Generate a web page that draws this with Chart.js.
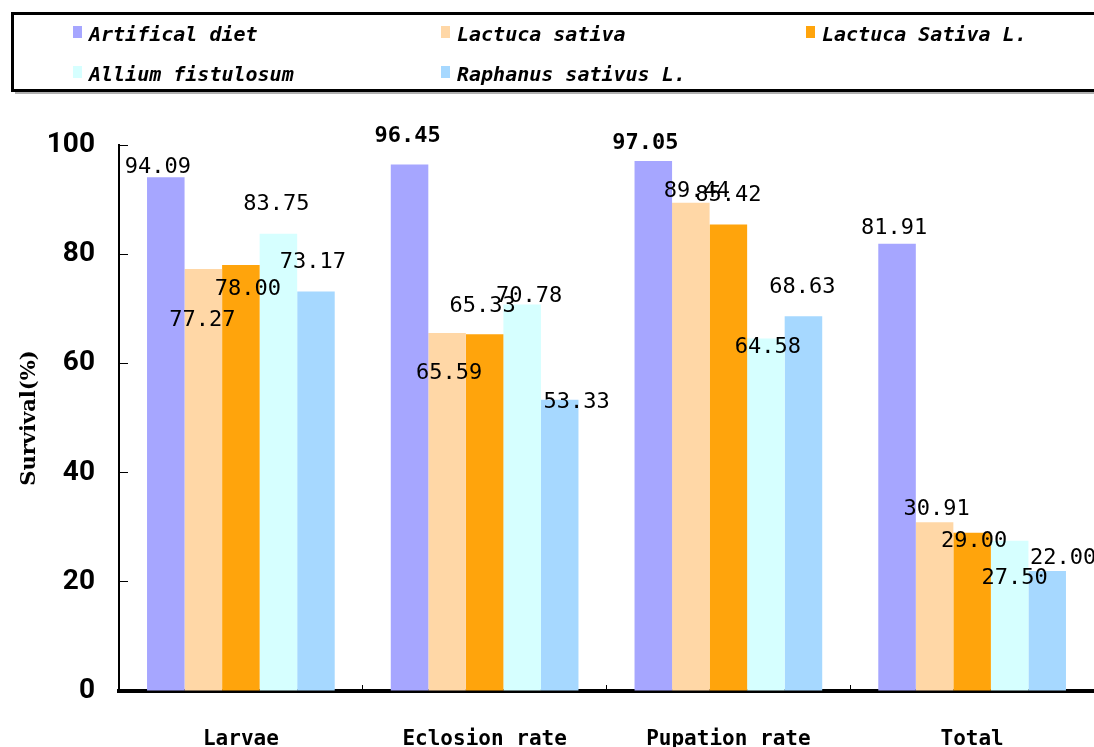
<!DOCTYPE html>
<html>
<head>
<meta charset="utf-8">
<script src="https://cdn.jsdelivr.net/npm/chart.js@4"></script>
<style>
  html, body { margin: 0; padding: 0; background: #fff; }
  #wrap { width: 1094px; height: 747px; position: relative; }
</style>
</head>
<body>
<div id="wrap"><canvas id="c"></canvas></div>
<script>
// ---- data ----
const categories = ['Larvae', 'Eclosion rate', 'Pupation rate', 'Total'];
const seriesNames = ['Artifical diet', 'Lactuca sativa', 'Lactuca Sativa L.', 'Allium fistulosum', 'Raphanus sativus L.'];
const artificalDiet    = [94.09, 96.45, 97.05, 81.91];
const lactucaSativa    = [77.27, 65.59, 89.44, 30.91];
const lactucaSativaL   = [78.00, 65.33, 85.42, 29.00];
const alliumFistulosum = [83.75, 70.78, 64.58, 27.50];
const raphanusSativusL = [73.17, 53.33, 68.63, 22.00];
const yTicks = [0, 20, 40, 60, 80, 100];

// ---- styles ----
const seriesColors = ['#A6A6FF', '#FFD7A6', '#FFA40C', '#D6FFFF', '#A6D8FF'];
// label displacement (px) relative to the top-centre of each bar, as in the reference
const labelShift = [
  [[-8, -10], [-2, -28], [-8, -18], [-3, -15]],
  [[-1, 51], [2, 40], [6, -11], [2, -13]],
  [[7, 24], [-2, -28], [0, -29], [2, 9]],
  [[-2, -29], [7, -8], [2, 9], [5, 37]],
  [[-3, -29], [17, 2], [-1, -29], [16, -13]]
];
const labelBold = [[false, true, true, false], [false,false,false,false], [false,false,false,false], [false,false,false,false], [false,false,false,false]];

const seriesValues = [artificalDiet, lactucaSativa, lactucaSativaL, alliumFistulosum, raphanusSativusL];

const datasets = seriesNames.map((name, i) => ({
  label: name,
  data: seriesValues[i],
  backgroundColor: seriesColors[i],
  borderWidth: 0,
  categoryPercentage: 0.77,
  barPercentage: 1.0
}));

const valueLabels = {
  id: 'valueLabels',
  afterDatasetsDraw(chart) {
    const ctx = chart.ctx;
    ctx.save();
    ctx.fillStyle = '#000';
    ctx.textAlign = 'center';
    ctx.textBaseline = 'middle';
    chart.data.datasets.forEach((ds, i) => {
      const meta = chart.getDatasetMeta(i);
      meta.data.forEach((bar, j) => {
        const v = ds.data[j];
        const s = labelShift[i][j];
        ctx.font = (labelBold[i][j] ? 'bold ' : '') + '22px "DejaVu Sans Mono", monospace';
        ctx.fillText(v.toFixed(2), bar.x + s[0], bar.y + s[1]);
      });
    });
    ctx.restore();
  }
};

const boxLegend = {
  id: 'boxLegend',
  afterDraw(chart) {
    const ctx = chart.ctx;
    ctx.save();
    ctx.strokeStyle = '#b0b0b0';
    ctx.lineWidth = 2;
    ctx.beginPath();
    ctx.moveTo(15, 93); ctx.lineTo(1100, 93);
    ctx.stroke();
    ctx.strokeStyle = '#000';
    ctx.lineWidth = 3;
    ctx.strokeRect(12.5, 13.5, 1100, 77);
    const colX = [73, 441, 806];
    const rowY = [36, 76];
    ctx.font = 'italic bold 20px "DejaVu Sans Mono", monospace';
    ctx.textAlign = 'left';
    ctx.textBaseline = 'middle';
    chart.data.datasets.forEach((ds, i) => {
      const x = colX[i % 3];
      const y = rowY[Math.floor(i / 3)];
      ctx.fillStyle = ds.backgroundColor;
      ctx.fillRect(x, y - 10, 9, 12);
      ctx.fillStyle = '#000';
      ctx.fillText(ds.label, x + 16, y);
    });
    ctx.restore();
  }
};

new Chart(document.getElementById('c'), {
  type: 'bar',
  data: { labels: categories, datasets },
  options: {
    responsive: true,
    maintainAspectRatio: false,
    animation: false,
    events: [],
    layout: { padding: { top: 145, left: 0, right: 0, bottom: 0 } },
    plugins: {
      legend: { display: false },
      tooltip: { enabled: false },
      title: { display: false }
    },
    scales: {
      x: {
        offset: true,
        grid: {
          display: true, offset: true, drawOnChartArea: false, drawTicks: true,
          tickLength: -6, color: '#000', lineWidth: 1
        },
        border: { display: true, color: '#000', width: 4 },
        ticks: {
          color: '#000',
          padding: 42,
          maxRotation: 0,
          autoSkip: false,
          font: { family: '"DejaVu Sans Mono", monospace', weight: 'bold', size: 21 }
        },
        afterFit(scale) { scale.height = 56; }
      },
      y: {
        min: 0,
        max: 100,
        afterBuildTicks(scale) { scale.ticks = yTicks.map(v => ({ value: v })); },
        grid: {
          display: true, drawOnChartArea: false, drawTicks: true,
          tickLength: -9, color: '#000', lineWidth: 1
        },
        border: { display: true, color: '#000', width: 2 },
        ticks: {
          color: '#000',
          padding: 33,
          font: { family: 'Roboto, "DejaVu Sans Condensed", sans-serif', weight: 'bold', size: 28 }
        },
        title: {
          display: true,
          text: 'Survival(%)',
          color: '#000',
          padding: { top: 17, bottom: 0 },
          font: { family: '"DejaVu Serif", serif', weight: 'bold', size: 21 }
        },
        afterFit(scale) { scale.width = 119; }
      }
    }
  },
  plugins: [valueLabels, boxLegend]
});
</script>
</body>
</html>
